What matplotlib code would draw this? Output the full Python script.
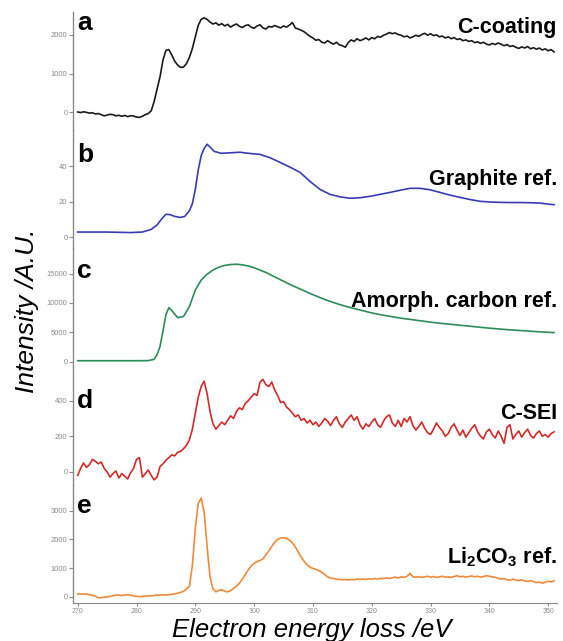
import numpy as np
import matplotlib
matplotlib.use('Agg')
import matplotlib.pyplot as plt

plt.rcParams['font.family'] = ['Liberation Sans', 'DejaVu Sans']
plt.rcParams['mathtext.fontset'] = 'custom'
plt.rcParams['mathtext.rm'] = 'Liberation Sans'
plt.rcParams['mathtext.bf'] = 'Liberation Sans:bold'

# energy grid (0.5 eV) for the noisy spectra a, d, e
energy = np.arange(270.0, 351.01, 0.5)

c_coating = [10, -5, 15, 0, -20, -10, -40, -30, -60, -90,
             -70, -50, -60, -90, -75, -100, -80, -110, -85, -95,
             -120, -130, -100, -60, -30, 40, 280, 600, 920, 1350,
             1600, 1620, 1480, 1320, 1220, 1160, 1170, 1260, 1420, 1650,
             1950, 2250, 2400, 2440, 2400, 2330, 2280, 2310, 2250, 2290,
             2230, 2270, 2200, 2250, 2280, 2220, 2190, 2240, 2260, 2200,
             2170, 2230, 2260, 2180, 2150, 2220, 2200, 2240, 2210, 2180,
             2230, 2200, 2250, 2320, 2180, 2150, 2120, 2080, 2020, 1960,
             1920, 1860, 1880, 1810, 1790, 1850, 1800, 1760, 1810, 1740,
             1720, 1680, 1800, 1870, 1830, 1900, 1850, 1880, 1920, 1870,
             1930, 1900, 1960, 1940, 1990, 2020, 2060, 2030, 2050, 2010,
             1990, 1950, 1970, 1920, 1950, 1990, 1960, 2010, 2040, 1990,
             2030, 1980, 2000, 1950, 1970, 1920, 1950, 1900, 1930, 1880,
             1900, 1850, 1870, 1830, 1850, 1800, 1820, 1780, 1810, 1760,
             1740, 1780, 1750, 1790, 1760, 1720, 1750, 1700, 1720, 1680,
             1650, 1690, 1660, 1700, 1640, 1670, 1630, 1660, 1610, 1640,
             1590, 1620, 1560]

c_sei = [-20, 20, 50, 25, 40, 70, 60, 45, 55, 20,
         0, -30, -10, 5, -35, -10, -25, -40, -5, 20,
         70, 80, -30, -10, 10, -20, -45, -30, 30, 45,
         65, 80, 95, 90, 110, 115, 130, 150, 180, 240,
         330, 420, 480, 510, 440, 340, 270, 240, 260, 280,
         265, 290, 315, 300, 340, 360, 350, 385, 400, 420,
         440, 430, 505, 520, 490, 480, 505, 460, 430, 390,
         395, 365, 350, 330, 310, 320, 290, 300, 275, 290,
         265, 280, 255, 275, 300, 285, 260, 290, 310, 270,
         250, 280, 300, 320, 290, 310, 265, 240, 270, 255,
         280, 300, 265, 250, 285, 310, 320, 275, 255, 290,
         255, 300, 280, 310, 260, 235, 255, 280, 245, 220,
         210, 240, 275, 250, 230, 200, 215, 250, 270, 235,
         205, 235, 195, 220, 245, 265, 225, 200, 185, 225,
         240, 210, 190, 230, 200, 160, 250, 265, 185, 210,
         230, 195, 220, 240, 205, 190, 215, 230, 200, 210,
         195, 215, 225]

li2co3 = [100, 110, 95, 105, 80, 60, 30, -30, -20, -10,
          0, 20, 40, 60, 70, 50, 65, 80, 60, 40,
          20, 10, 25, 30, 45, 35, 50, 70, 65, 75,
          70, 80, 90, 110, 130, 160, 200, 270, 380, 1100,
          2400, 3250, 3440, 2950, 1750, 700, 280, 180, 230, 250,
          200, 180, 220, 300, 380, 480, 620, 780, 940, 1080,
          1170, 1230, 1270, 1320, 1470, 1600, 1760, 1900, 2000, 2050,
          2060, 2040, 1980, 1880, 1740, 1560, 1380, 1240, 1120, 1040,
          990, 960, 920, 860, 780, 700, 660, 640, 620, 610,
          600, 605, 595, 610, 600, 620, 610, 625, 615, 630,
          620, 640, 625, 650, 640, 660, 645, 670, 690, 660,
          700, 680, 720, 820, 700, 690, 710, 680, 700, 720,
          690, 710, 680, 700, 720, 690, 700, 680, 710, 740,
          700, 720, 690, 710, 730, 700, 720, 690, 710, 740,
          720, 700, 680, 650, 620, 640, 600, 580, 620, 590,
          570, 600, 560, 540, 570, 530, 500, 520, 480, 510,
          550, 520, 560]

# smooth reference spectra b, c
graphite_e = [270, 275, 279, 281, 282.5, 283.5, 284.3, 285, 285.7, 286.5,
              287.4, 288.2, 289, 289.5, 290, 290.5, 291, 291.5, 292, 292.6,
              293.2, 294.4, 296, 297.6, 299.3, 301, 302.7, 304.4, 306.1, 307.8,
              309.5, 311.2, 312.9, 314.6, 316.3, 318, 319.7, 321.4, 323.1, 324.8,
              326.5, 328.2, 329.9, 331.6, 333.3, 335, 336.7, 338.4, 340.1, 341.8,
              343.5, 345.2, 346.9, 348.6, 350.3, 351]
graphite = [3.0, 3.0, 2.7, 3.0, 4.5, 7.0, 10.5, 13.0, 12.8, 11.8,
            11.2, 11.8, 15.0, 19, 27, 38, 46, 50, 52.4, 50.5,
            48.4, 47.3, 47.6, 47.9, 47.2, 46.7, 44.8, 42.2, 39.5, 36.6,
            31.5, 27.0, 24.2, 22.8, 22.0, 22.3, 23.1, 24.2, 25.3, 26.5,
            27.6, 27.6, 26.8, 25.3, 23.8, 22.5, 21.3, 20.3, 19.9, 19.7,
            19.6, 19.6, 19.5, 19.3, 18.6, 18.4]

amorph_e = [270, 275, 280, 282, 283, 283.5, 284, 284.5, 285, 285.5,
            286, 287, 288, 289, 290, 291, 292, 293, 294, 295,
            296, 297, 298, 299, 300, 302, 304, 306, 308, 310,
            312, 314, 316, 318, 320, 322, 325, 328, 331, 334,
            337, 340, 343, 346, 349, 351]
amorph = [150, 150, 150, 170, 400, 1200, 2600, 5200, 8000, 9200,
          8700, 7500, 7700, 9400, 12200, 13900, 14900, 15600, 16100, 16400,
          16550, 16600, 16500, 16300, 16000, 15200, 14200, 13200, 12300, 11400,
          10600, 9900, 9300, 8800, 8300, 7900, 7400, 7000, 6600, 6300,
          6000, 5700, 5450, 5250, 5050, 4950]

panels = [
    ('a', 'C-coating', energy, c_coating, '#1a1a1a', (-460, 2590), [0, 1000, 2000], 30, 33),
    ('b', 'Graphite ref.', graphite_e, graphite, '#3b3bb5', (-6.2, 60.3), [0, 20, 40], 162, 185),
    ('c', 'Amorph. carbon ref.', amorph_e, amorph, '#2e8b5a', (-850, 19300), [0, 5000, 10000, 15000], 278, 307),
    ('d', 'C-SEI', energy, c_sei, '#d22a2a', (-73, 592), [0, 200, 400], 408, 419),
    ('e', r'Li$_\mathbf{2}$CO$_\mathbf{3}$ ref.', energy, li2co3, '#ee8a3a', (-209, 3900), [0, 1000, 2000, 3000], 513, 563),
]

W, H = 563, 641
fig, axes = plt.subplots(5, 1, figsize=(5.63, 6.41), dpi=100, sharex=True,
                         gridspec_kw=dict(hspace=0))
fig.subplots_adjust(left=73 / W, right=557 / W, top=1 - 12 / H, bottom=1 - 603 / H)

grey = '#8a8a8a'
for ax, (letter, name, x, y, col, ylim, yt, ly, ny) in zip(axes, panels):
    ax.plot(x, y, color=col, lw=1.2)
    ax.set_ylim(*ylim)
    ax.set_yticks(yt)
    for s in ['top', 'right', 'bottom']:
        ax.spines[s].set_visible(False)
    ax.spines['left'].set_color(grey)
    ax.spines['left'].set_linewidth(1.0)
    ax.tick_params(axis='y', labelsize=5.5, colors=grey, length=3, width=0.8, pad=1)
    ax.tick_params(axis='x', bottom=False, labelbottom=False)
    ax.patch.set_alpha(0)
    fig.text(77 / W, 1 - ly / H, letter, fontsize=19, fontweight='bold', va='baseline', ha='left')
    fig.text(557 / W, 1 - ny / H, name, fontsize=15.5, fontweight='bold', va='baseline', ha='right')

last = axes[-1]
last.spines['bottom'].set_visible(True)
last.spines['bottom'].set_color(grey)
last.set_xlim(269.2, 351.5)
last.set_xticks(np.arange(270, 351, 10))
last.tick_params(axis='x', bottom=True, labelbottom=True, labelsize=5, colors=grey,
                 length=2, width=0.8, pad=1.5)

fig.text(27 / W, 1 - 311 / H, 'Intensity /A.U.', rotation=90, fontsize=19, style='italic',
         ha='center', va='center')
fig.text(312 / W, 1 - 637 / H, 'Electron energy loss /eV', fontsize=18.5, style='italic',
         ha='center', va='baseline')

fig.savefig('out.png', dpi=100)
